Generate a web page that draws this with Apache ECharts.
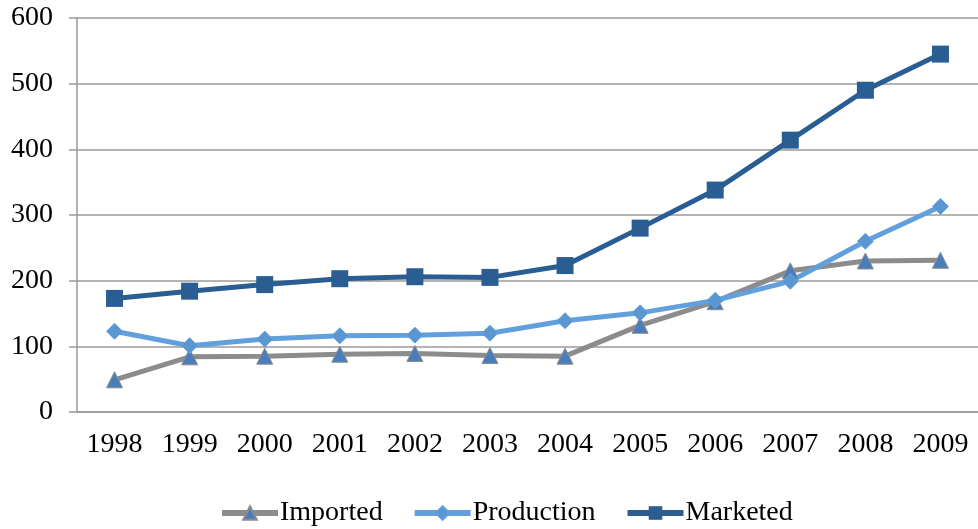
<!DOCTYPE html>
<html>
<head>
<meta charset="utf-8">
<script src="https://cdn.jsdelivr.net/npm/echarts@6/dist/echarts.min.js"></script>
<style>
    html, body { margin: 0; padding: 0; background: #fff; }
    #chart { width: 978px; height: 529px; }
</style>
</head>
<body>
<div id="chart"></div>
<script>
    // 数据
    var years = ['1998', '1999', '2000', '2001', '2002', '2003', '2004', '2005', '2006', '2007', '2008', '2009'];
    var imported = [49, 84, 85, 88, 89, 86, 85, 132, 168, 215, 230, 231];
    var production = [123, 101, 111, 116, 117, 120, 139, 151, 170, 199, 260, 313];
    var marketed = [173, 184, 194, 203, 206, 205, 223, 280, 338, 414, 490, 545];

    var chart = echarts.init(document.getElementById('chart'));
    var font = '"Liberation Serif", "Times New Roman", serif';
    var axisGray = '#9a9a9a';

    var option = {
        animation: false,
        textStyle: { fontFamily: font },
        grid: { left: 77, right: -4, top: 18, bottom: 117 },
        legend: {
            top: 494,
            left: 214,
            itemWidth: 56,
            itemHeight: 17,
            itemGap: 29,
            lineStyle: { width: 6 },
            textStyle: { fontFamily: font, fontSize: 28, color: '#000', padding: [0, 0, 0, -3] },
            data: ['Imported', 'Production', 'Marketed']
        },
        xAxis: {
            type: 'category',
            data: years,
            boundaryGap: true,
            axisLine: { lineStyle: { color: axisGray, width: 1.5 } },
            axisTick: { length: 7, lineStyle: { color: axisGray, width: 1.5 } },
            axisLabel: { fontFamily: font, fontSize: 28, color: '#000', margin: 19 }
        },
        yAxis: {
            type: 'value',
            min: 0,
            max: 600,
            interval: 100,
            axisLine: { show: true, lineStyle: { color: axisGray, width: 1.5 } },
            axisTick: { show: true, length: 8, lineStyle: { color: axisGray, width: 1.5 } },
            splitLine: { lineStyle: { color: axisGray, width: 1.5 } },
            axisLabel: { fontFamily: font, fontSize: 28, color: '#000', margin: 24 }
        },
        series: [
            {
                name: 'Imported',
                type: 'line',
                data: imported,
                symbol: 'triangle',
                symbolSize: 16,
                lineStyle: { color: '#8c8c8c', width: 5 },
                itemStyle: { color: '#4a7ebb', borderColor: '#8c8c8c', borderWidth: 1 }
            },
            {
                name: 'Production',
                type: 'line',
                data: production,
                symbol: 'diamond',
                symbolSize: 16,
                lineStyle: { color: '#62a0dd', width: 5 },
                itemStyle: { color: '#5a96d0', borderColor: '#62a0dd', borderWidth: 1 }
            },
            {
                name: 'Marketed',
                type: 'line',
                data: marketed,
                symbol: 'rect',
                symbolSize: 17,
                lineStyle: { color: '#2a5e92', width: 5 },
                itemStyle: { color: '#2a5e92' }
            }
        ]
    };

    chart.setOption(option);
</script>
</body>
</html>
